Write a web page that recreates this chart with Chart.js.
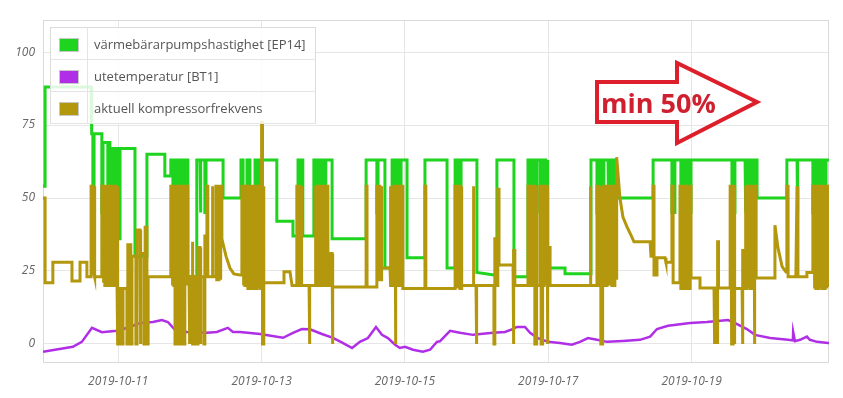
<!DOCTYPE html>
<html lang="sv">
<head>
<meta charset="UTF-8">
<title>Kompressorfrekvens</title>
<script src="https://cdn.jsdelivr.net/npm/chart.js@4.4.0/dist/chart.umd.min.js"></script>
<style>
    html, body { margin: 0; padding: 0; background: #fff; }
    #wrap { position: relative; width: 843px; height: 398px; overflow: hidden; }
    #legend {
        position: absolute; left: 50px; top: 27px; width: 266px;
        border-collapse: collapse; border: 1px solid #dcdcdc;
        background: rgba(255, 255, 255, 0.85);
        font-family: 'Open Sans', sans-serif; font-size: 13px; color: #555;
    }
    #legend td { height: 31px; border-bottom: 1px solid #e4e4e4; padding: 0; }
    #legend td.sw { width: 36px; border-right: 1px solid #e4e4e4; text-align: center; }
    #legend td.tx { padding-left: 6px; white-space: nowrap; }
    #legend span.box { display: inline-block; width: 18px; height: 12px; border: 1px solid #c8c8c8; vertical-align: middle; }
    #arrow { position: absolute; left: 0; top: 0; pointer-events: none; }
</style>
</head>
<body>
<div id="wrap">
    <canvas id="chart" width="843" height="398"></canvas>
    <table id="legend"></table>
    <svg id="arrow" width="843" height="398">
        <polygon points="597,82 677,82 677,63 757,102 677,143 677,122 597,122"
                 fill="none" stroke="#dc1f2a" stroke-width="4" stroke-linejoin="miter"/>
        <text x="601" y="113" font-family="Open Sans, sans-serif" font-weight="bold" font-size="27" fill="#cf2030">min 50%</text>
    </svg>
</div>

<script>
// x = timmar från 2019-10-09 00:00, y = värde
const seriesNames = ['värmebärarpumpshastighet [EP14]', 'utetemperatur [BT1]', 'aktuell kompressorfrekvens'];
const seriesColors = ['#1fd41f', '#b02ee6', '#b3970c'];
const dayTicks = [48, 96, 144, 192, 240];
const valueTicks = [0, 25, 50, 75, 100];

// värmebärarpumpshastighet [EP14]
const pumpSpeed = [
    [22.8,54],[23.5,54],[23.5,88],[38.9,88],[38.9,75],[39.2,75],[39.2,72],[39.5,72],[39.5,45],[39.9,45],[39.9,72],
    [42.5,72],[42.5,45],[42.9,45],[42.9,69],[44.5,69],[44.5,45],[44.9,45],[44.9,69],[45.2,69],[45.2,67],[45.9,67],
    [45.9,45],[46.2,45],[46.2,67],[46.9,67],[46.9,45],[47.2,45],[47.2,67],[47.9,67],[47.9,36],[48.6,36],[48.6,67],
    [53.6,67],[53.6,30],[57.6,30],[57.6,65],[63.6,65],[63.6,57.5],[65.6,57.5],
    [65.6,63],[66.3,63],[66.3,45],[66.6,45],[66.6,63],[67.3,63],[67.3,45],[67.7,45],[67.7,63],[68.0,63],[68.0,45],
    [68.3,45],[68.3,63],[69.0,63],[69.0,45],[69.3,45],[69.3,63],[70.0,63],[70.0,45],[70.3,45],[70.3,63],[71.3,63],
    [71.3,23],[74.3,23],[74.3,63],[75.4,63],[75.4,45],[75.7,45],[75.7,63],[77.0,63],[77.0,45],[77.4,45],[77.4,63],
    [83.1,63],[83.1,50],[89.1,50],[89.1,63],[89.8,63],[89.8,45],[91.1,45],[91.1,63],[92.1,63],[92.1,45],[93.8,45],
    [93.8,63],[94.4,63],[94.4,45],[94.8,45],[94.8,63],[95.5,63],[95.5,45],[95.8,45],[95.8,63],[101.1,63],[101.1,42],
    [106.5,42],[106.5,37],[108.2,37],[108.2,63],[108.8,63],[108.8,45],[109.2,45],[109.2,63],[109.8,63],[109.8,37],
    [113.5,37],[113.5,63],[114.2,63],[114.2,45],[114.5,45],[114.5,63],[115.2,63],[115.2,45],[115.5,45],[115.5,63],
    [116.2,63],[116.2,45],[116.5,45],[116.5,63],[117.2,63],[117.2,45],[117.5,45],[117.5,63],[119.6,63],[119.6,36],
    [131.0,36],[131.0,63],[134.6,63],[134.6,45],[135.0,45],[135.0,63],[137.3,63],[137.3,26],[139.7,26],[139.7,63],
    [140.3,63],[140.3,45],[140.7,45],[140.7,63],[141.3,63],[141.3,45],[141.7,45],[141.7,63],[142.3,63],[142.3,45],
    [142.7,45],[142.7,63],[144.7,63],[144.7,29.5],[150.7,29.5],[150.7,63],[158.1,63],[158.1,26],[160.8,26],[160.8,63],
    [161.4,63],[161.4,45],[161.8,45],[161.8,63],[162.4,63],[162.4,45],[162.8,45],[162.8,63],[168.1,63],[168.1,24.5],
    [173.8,23.6],[174.8,23.6],[174.8,63],[180.5,63],[180.5,23],[185.2,23],[185.2,63],[185.9,63],[185.9,45],[186.2,45],
    [186.2,63],[186.9,63],[186.9,45],[187.2,45],[187.2,63],[187.9,63],[187.9,45],[188.2,45],[188.2,63],[189.2,63],
    [189.2,45],[189.6,45],[189.6,63],[190.2,63],[190.2,45],[190.6,45],[190.6,63],[191.2,63],[191.2,45],[191.6,45],
    [191.6,63],[191.9,63],[191.9,26],[197.6,26],[197.6,24],[206.3,24],[206.3,63],[208.3,63],[208.3,45],[208.6,45],
    [208.6,63],[209.3,63],[209.3,45],[209.6,45],[209.6,63],[210.3,63],[210.3,45],[210.6,45],[210.6,63],[212.0,63],
    [212.0,45],[212.3,45],[212.3,63],[213.0,63],[213.0,45],[213.3,45],[213.3,63],[214.0,63],[214.0,45],[214.3,45],
    [214.3,63],[214.7,63],[214.7,50],[227.1,50],[227.1,63],[233.4,63],[233.4,45],[234.4,45],[234.4,63],[236.4,63],
    [236.4,45],[236.8,45],[236.8,63],[237.4,63],[237.4,45],[237.8,45],[237.8,63],[238.4,63],[238.4,45],[238.8,45],
    [238.8,63],[239.5,63],[239.5,45],[239.8,45],[239.8,63],[253.5,63],[253.5,45],[254.5,45],[254.5,63],[257.9,63],
    [257.9,45],[258.2,45],[258.2,63],[258.9,63],[258.9,45],[259.2,45],[259.2,63],[259.9,63],[259.9,45],[260.2,45],
    [260.2,63],[260.9,63],[260.9,45],[261.2,45],[261.2,63],[261.9,63],[261.9,50],[271.9,50],[271.9,63],[275.3,63],
    [275.3,45],[275.6,45],[275.6,63],[280.6,63],[280.6,45],[281.0,45],[281.0,63],[281.6,63],[281.6,45],[282.0,45],
    [282.0,63],[282.6,63],[282.6,45],[283.0,45],[283.0,63],[283.7,63],[283.7,45],[284.0,45],[284.0,63],[284.7,63],
    [284.7,45],[285.0,45],[285.0,63],[286.0,63]
];

// utetemperatur [BT1]
const outdoorTemp = [
    [22.8,-2.7],[32.8,-1],[35.8,0.7],[39.2,5.5],[42.5,4],[47.6,4.5],[51.9,5.8],[55.3,7.2],[59.6,7.5],[62.6,8.2],
    [64.6,7.5],[67.0,4.8],[71.0,4.1],[77.7,3.8],[81.0,4.1],[84.7,5.5],[86.4,4.1],[88.8,4.1],[95.5,3.4],[103.2,2.1],
    [106.5,3.8],[109.5,5.1],[112.2,5],[116.2,3.4],[119.9,2.1],[123.3,0.3],[126.3,-1.4],[128.9,0.7],[131.6,2],
    [134.3,5.8],[136.3,3.1],[138.3,2],[140.7,-0.3],[142.3,-1.4],[144.0,-1],[146.7,-2],[150.0,-2.7],[152.4,-2],
    [154.7,0.7],[155.7,0.9],[159.1,4.5],[162.4,3.8],[166.8,3.1],[173.5,3.8],[177.5,4.1],[179.8,5],[181.5,5.8],
    [184.2,5.8],[185.9,3.8],[188.5,2],[191.9,0.7],[195.9,0.3],[199.9,-0.3],[202.6,0.7],[205.3,2],[208.3,1.4],
    [211.7,0.7],[217.0,1],[222.7,1.4],[226.1,2.5],[228.4,5.1],[232.1,6.2],[239.5,7.2],[245.1,7.5],[252.2,8.2],
    [253.9,7.5],[258.5,5.1],[261.2,3.1],[266.3,2],[272.3,1.4],[273.9,1.2],[274.0,4.1],[274.6,0.9],[276.3,1.4],
    [278.6,2.5],[279.6,1.4],[282.0,0.7],[285.7,0.3],[286.0,0.3]
];

// aktuell kompressorfrekvens
const compressorFreq = [
    [22.8,50],[23.5,50],[23.5,21],[26.1,21],[26.1,28],[32.5,28],[32.5,21.6],[35.2,21.6],[35.2,28],[37.5,28],[37.5,23],
    [38.9,23],[38.9,54],[39.5,54],[39.5,24],[39.9,24],[39.9,54],[40.2,54],[40.2,23],[42.5,23],[42.5,54],[42.9,54],
    [42.9,21],[43.2,21],[43.2,54],[43.5,54],[43.5,20],[44.5,20],[44.5,54],[44.9,54],[44.9,20],[45.2,20],[45.2,54],
    [45.5,54],[45.5,20],[45.9,20],[45.9,54],[46.2,54],[46.2,20],[46.9,20],[46.9,54],[47.2,54],[47.2,20],[47.6,20],
    [47.6,54],[47.9,54],[47.9,0],[48.2,0],[48.2,19],[49.2,19],[49.2,0],[49.6,0],[49.6,19],[50.9,19],[50.9,0],
    [51.2,0],[51.2,34],[52.2,34],[52.2,0],[52.6,0],[52.6,30],[53.9,30],[53.9,0],[54.3,0],[54.3,39],[55.3,39],
    [55.3,0],[55.6,0],[55.6,31],[56.6,31],[56.6,0],[57.0,0],[57.0,40],[57.6,40],[57.6,0],[58.0,0],[58.0,23],
    [65.6,23],[65.6,54],[66.0,54],[66.0,20],[66.3,20],[66.3,54],[66.6,54],[66.6,20],[67.0,20],[67.0,0],[67.3,0],
    [67.3,54],[67.7,54],[67.7,20],[68.0,20],[68.0,54],[68.3,54],[68.3,0],[68.7,0],[68.7,54],[69.0,54],[69.0,20],
    [69.3,20],[69.3,54],[69.7,54],[69.7,20],[70.0,20],[70.0,0],[70.3,0],[70.3,54],[70.7,54],[70.7,20],[71.0,20],
    [71.0,54],[71.3,54],[71.3,23],[71.7,23],[71.7,0],[72.0,0],[72.0,23],[72.7,23],[72.7,35],[73.0,35],[73.0,0],
    [73.3,0],[73.3,23],[74.3,23],[74.3,0],[74.7,0],[74.7,33],[75.4,33],[75.4,0],[75.7,0],[75.7,23],[76.7,23],
    [76.7,0],[77.0,0],[77.0,37],[77.7,37],[77.7,54],[78.0,54],[78.0,23],[79.4,23],[79.4,54],[79.7,54],[79.7,23],
    [80.7,23],[80.7,54],[81.0,54],[81.0,22],[81.7,22],[81.7,54],[82.1,54],[82.1,22],[82.4,22],[82.4,54],[82.7,54],
    [82.7,36],[84.1,30],[85.4,26],[86.7,24],[88.8,23.6],[89.4,23.6],[89.4,54],[89.8,54],[89.8,20],[90.1,20],
    [90.1,54],[90.4,54],[90.4,20],[91.1,20],[91.1,54],[91.4,54],[91.4,19],[92.1,19],[92.1,54],[92.4,54],[92.4,19],
    [93.1,19],[93.1,54],[93.4,54],[93.4,19],[93.8,19],[93.8,54],[94.1,54],[94.1,19],[94.4,19],[94.4,54],[94.8,54],
    [94.8,19],[95.1,19],[95.1,54],[95.5,54],[95.5,19],[95.8,19],[95.8,54],[96.1,54],[96.1,76],[96.3,76],[96.3,0],
    [96.6,0],[96.6,54],[96.8,54],[96.8,21],[103.2,21],[103.5,24.7],[105.5,24.7],[106.2,20],[107.8,20],[107.8,54],
    [108.2,54],[108.2,20],[108.5,20],[108.5,54],[108.8,54],[108.8,20],[109.2,20],[109.2,54],[109.5,54],[109.5,20],
    [111.9,20],[111.9,0],[112.2,0],[112.2,20],[113.9,20],[113.9,54],[114.2,54],[114.2,20],[114.5,20],[114.5,54],
    [114.9,54],[114.9,20],[115.2,20],[115.2,54],[115.5,54],[115.5,20],[115.9,20],[115.9,54],[116.2,54],[116.2,20],
    [116.5,20],[116.5,54],[116.9,54],[116.9,20],[117.2,20],[117.2,54],[117.5,54],[117.5,20],[117.9,20],[117.9,54],
    [118.2,54],[118.2,20],[119.2,20],[119.2,31],[119.6,31],[119.6,0],[119.9,0],[119.9,19.5],[131.0,19.5],[131.0,54],
    [131.3,54],[131.3,19.5],[134.6,19.5],[134.6,54],[135.0,54],[135.0,22],[135.3,22],[135.3,54],[135.6,54],[135.6,22],
    [136.0,22],[136.0,54],[136.3,54],[136.3,26],[139.0,26],[139.0,54],[139.3,54],[139.3,20],[139.7,20],[139.7,54],
    [140.0,54],[140.0,20],[140.3,20],[140.3,54],[140.7,54],[140.7,0],[141.0,0],[141.0,54],[141.3,54],[141.3,20],
    [141.7,20],[141.7,54],[142.0,54],[142.0,20],[142.3,20],[142.3,54],[142.7,54],[142.7,20],[143.0,20],[143.0,54],
    [143.3,54],[143.3,19],[150.7,19],[150.7,54],[151.0,54],[151.0,19],[160.8,19],[160.8,54],[161.1,54],[161.1,19],
    [161.4,19],[161.4,54],[161.8,54],[161.8,19],[162.1,19],[162.1,54],[162.4,54],[162.4,19],[162.8,19],[162.8,54],
    [163.1,54],[163.1,20],[166.8,20],[166.8,54],[167.1,54],[167.1,20],[167.8,20],[167.8,0],[168.1,0],[168.1,20],
    [173.8,20],[173.8,0],[174.1,0],[174.1,36],[174.5,36],[174.5,20],[175.1,20],[175.1,53],[175.5,53],[175.5,27],
    [180.2,27],[180.2,0],[180.5,0],[180.5,32],[180.8,32],[180.8,20],[185.2,20],[185.2,54],[185.5,54],[185.5,20],
    [185.9,20],[185.9,54],[186.2,54],[186.2,20],[186.5,20],[186.5,54],[186.9,54],[186.9,20],[187.2,20],[187.2,54],
    [187.5,54],[187.5,0],[187.9,0],[187.9,54],[188.2,54],[188.2,20],[189.2,20],[189.2,54],[189.6,54],[189.6,0],
    [189.9,0],[189.9,54],[190.2,54],[190.2,20],[190.6,20],[190.6,54],[190.9,54],[190.9,20],[191.2,20],[191.2,54],
    [191.6,54],[191.6,0],[191.9,0],[191.9,20],[192.2,20],[192.2,33],[192.6,33],[192.6,20],[206.0,20],[206.0,54],
    [206.3,54],[206.3,20],[208.3,20],[208.3,54],[208.6,54],[208.6,20],[209.0,20],[209.0,54],[209.3,54],[209.3,20],
    [209.6,20],[209.6,0],[210.0,0],[210.0,54],[210.3,54],[210.3,20],[210.6,20],[210.6,54],[211.0,54],[211.0,20],
    [211.7,20],[211.7,54],[212.0,54],[212.0,20],[212.3,20],[212.3,54],[212.7,54],[212.7,20],[213.0,20],[213.0,54],
    [213.3,54],[213.3,20],[213.7,20],[213.7,54],[214.0,54],[214.0,20],[214.3,20],[214.3,54],[214.7,54],[214.7,22],
    [215.0,22],[215.0,64],[216.0,50],[217.0,43.5],[218.4,40],[220.0,36.6],[220.7,35],[226.1,35],[226.4,30],[227.1,30],
    [227.1,54],[227.4,54],[227.4,23.6],[228.1,23.6],[228.4,29.5],[231.1,29.5],[231.4,28],[233.4,28],[233.4,54],
    [233.8,54],[233.8,21],[236.1,21],[236.1,54],[236.4,54],[236.4,19],[236.8,19],[236.8,54],[237.1,54],[237.1,19],
    [237.4,19],[237.4,54],[237.8,54],[237.8,19],[238.1,19],[238.1,54],[238.4,54],[238.4,19],[238.8,19],[238.8,54],
    [239.1,54],[239.1,19],[239.5,19],[239.5,54],[239.8,54],[239.8,22.6],[242.8,22.6],[242.8,19.2],[247.5,19.2],
    [247.5,0],[247.8,0],[247.8,19.2],[248.5,19.2],[248.5,0],[248.8,0],[248.8,35],[249.0,35],[249.0,19.2],[252.9,19.2],
    [252.9,54],[253.2,54],[253.2,19],[253.5,19],[253.5,0],[253.9,0],[253.9,54],[254.2,54],[254.2,0],[254.5,0],
    [254.5,19],[256.9,19],[256.9,0],[257.2,0],[257.2,32],[257.5,32],[257.5,19],[257.9,19],[257.9,54],[258.2,54],
    [258.2,19],[258.5,19],[258.5,54],[258.9,54],[258.9,19],[259.2,19],[259.2,54],[259.6,54],[259.6,19],[259.9,19],
    [259.9,54],[260.2,54],[260.2,19],[260.6,19],[260.6,54],[260.9,54],[260.9,0],[261.2,0],[261.2,54],[261.6,54],
    [261.6,22.6],[267.6,22.6],[267.9,40.7],[268.9,33],[270.3,26.5],[271.6,24.6],[271.9,24.6],[271.9,54],[272.3,54],
    [272.3,23],[274.9,23],[275.3,54],[275.6,54],[275.6,23],[278.6,23],[278.6,24.5],[280.6,24.5],[280.6,54],[281.0,54],
    [281.0,19],[281.3,19],[281.3,54],[281.6,54],[281.6,19],[282.0,19],[282.0,54],[282.3,54],[282.3,19],[282.6,19],
    [282.6,54],[283.0,54],[283.0,19],[283.3,19],[283.3,54],[283.7,54],[283.7,19],[284.0,19],[284.0,54],[284.3,54],
    [284.3,19],[284.7,19],[284.7,54],[285.0,54],[285.0,19],[285.3,19],[285.3,54],[285.7,54],[285.7,20],[286.0,20]
];

// Legend som riktig text
const legend = document.getElementById('legend');
seriesNames.forEach((name, i) => {
    const tr = document.createElement('tr');
    tr.innerHTML = '<td class="sw"><span class="box" style="background:' + seriesColors[i] + '"></span></td>' +
                   '<td class="tx">' + name + '</td>';
    legend.appendChild(tr);
});

function toPoints(arr) {
    return arr.map(p => ({ x: p[0], y: p[1] }));
}

// Ram runt ritytan
const frame = {
    id: 'frame',
    beforeDatasetsDraw(chart) {
        const a = chart.chartArea, ctx = chart.ctx;
        ctx.save();
        ctx.strokeStyle = '#d9d9d9';
        ctx.lineWidth = 1;
        ctx.strokeRect(a.left + 0.5, a.top + 0.5, a.right - a.left - 1, a.bottom - a.top);
        ctx.restore();
    }
};

const tickFont = { family: "'Open Sans', sans-serif", size: 12, style: 'italic' };

new Chart(document.getElementById('chart'), {
    type: 'line',
    data: {
        datasets: [
            { label: seriesNames[0], data: toPoints(pumpSpeed), borderColor: seriesColors[0], borderWidth: 3, order: 2 },
            { label: seriesNames[1], data: toPoints(outdoorTemp), borderColor: seriesColors[1], borderWidth: 2.5, order: 1 },
            { label: seriesNames[2], data: toPoints(compressorFreq), borderColor: seriesColors[2], borderWidth: 3, order: 0 }
        ]
    },
    options: {
        responsive: false,
        animation: false,
        parsing: false,
        elements: { point: { radius: 0 }, line: { tension: 0, fill: false, borderJoinStyle: 'miter' } },
        layout: { padding: { top: 20, right: 14, left: 0, bottom: 0 } },
        plugins: { legend: { display: false }, tooltip: { enabled: false } },
        scales: {
            x: {
                type: 'linear', min: 22.8, max: 286,
                grid: { color: '#e6e6e6', drawTicks: false },
                border: { display: false },
                ticks: {
                    font: tickFont, color: '#666', padding: 12, maxRotation: 0,
                    callback: v => '2019-10-' + String(9 + v / 24).padStart(2, '0')
                },
                afterBuildTicks: s => { s.ticks = dayTicks.map(v => ({ value: v })); },
                afterFit: s => { s.height = 36; }
            },
            y: {
                min: -6.2, max: 111,
                grid: { color: '#e6e6e6', drawTicks: false },
                border: { display: false },
                ticks: { font: tickFont, color: '#666', padding: 8 },
                afterBuildTicks: s => { s.ticks = valueTicks.map(v => ({ value: v })); },
                afterFit: s => { s.width = 43; }
            }
        }
    },
    plugins: [frame]
});
</script>
</body>
</html>
